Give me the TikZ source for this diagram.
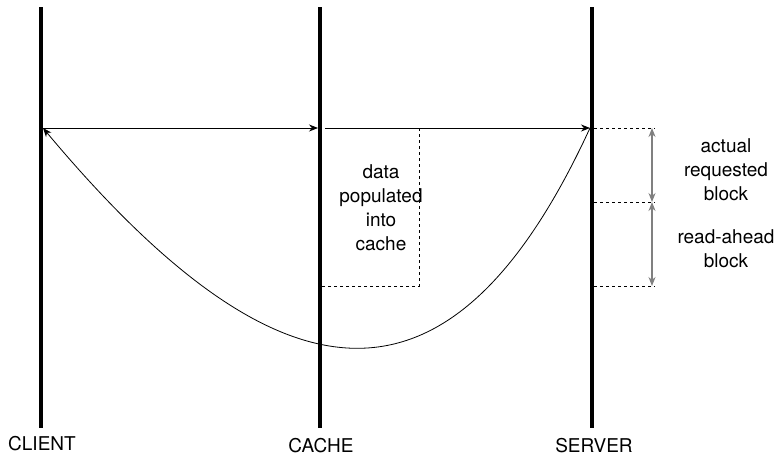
\documentclass[tikz,border=0pt]{standalone}
\usepackage{fontspec}
\setmainfont{TeX Gyre Heros}
\usetikzlibrary{arrows.meta}
\begin{document}
\begin{tikzpicture}[x=1pt,y=-1pt,
  lifeline/.style={line width=3.6pt},
  msg/.style={line width=0.8pt,-{Stealth[length=9pt,width=7pt]}},
  guide/.style={dashed,line width=0.6pt},
  span/.style={draw=gray,line width=1.2pt,{Stealth[length=9pt,width=7pt]}-{Stealth[length=9pt,width=7pt]}},
  lbl/.style={font=\fontsize{19}{22}\selectfont},
  txt/.style={font=\fontsize{19}{24}\selectfont,align=center}]
\useasboundingbox (0,0) rectangle (781,456);
% lifelines
\coordinate (clT) at (41,7);   \coordinate (clB) at (41,428);
\coordinate (caT) at (320,7);  \coordinate (caB) at (320,428);
\coordinate (seT) at (592,7);  \coordinate (seB) at (592,428);
\draw[lifeline] (clT) -- (clB);
\draw[lifeline] (caT) -- (caB);
\draw[lifeline] (seT) -- (seB);
\node[lbl] (client) at (42,444) {CLIENT};
\node[lbl] (cache) at (321,446) {CACHE};
\node[lbl] (server) at (594,446) {SERVER};
% messages
\coordinate (c1) at (43,128);
\coordinate (c2) at (318,128);
\coordinate (c3) at (325,128);
\coordinate (s1) at (590,128);
\draw[msg] (c1) -- (c2);
\draw[msg] (c3) -- (s1);
\draw[msg] (s1) .. controls (455,421) and (288,421) .. (c1);
% cache region
\coordinate (cbR) at (419,128);
\coordinate (cbRB) at (419,286);
\coordinate (cbL) at (322,286);
\draw[guide] (cbR) -- (cbRB) -- (cbL);
\node[txt] (data) at (381,208) {data\\populated\\into\\cache};
% server blocks
\coordinate (d1a) at (594,128); \coordinate (d1b) at (655,128);
\coordinate (d2a) at (594,202); \coordinate (d2b) at (655,202);
\coordinate (d3a) at (594,286); \coordinate (d3b) at (655,286);
\draw[guide] (d1a) -- (d1b);
\draw[guide] (d2a) -- (d2b);
\draw[guide] (d3a) -- (d3b);
\coordinate (a1) at (652,128); \coordinate (a2) at (652,202); \coordinate (a3) at (652,286);
\draw[span] (a1) -- (a2);
\draw[span] (a2) -- (a3);
\node[txt] (actual) at (726,170) {actual\\requested\\block};
\node[txt] (ahead) at (726,249) {read-ahead\\block};
\end{tikzpicture}
\end{document}
